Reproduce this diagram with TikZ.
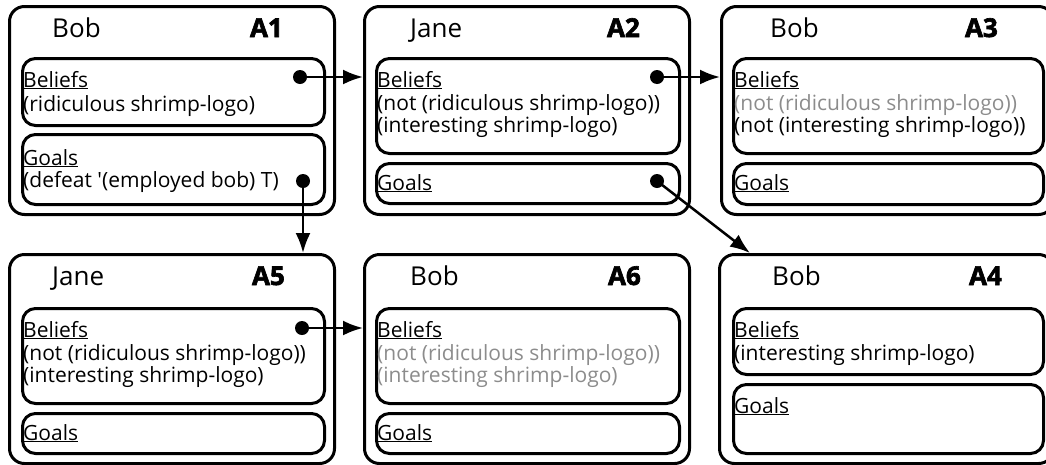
\documentclass[tikz,border=0pt]{standalone}
\usepackage{fontspec}
\setmainfont{Open Sans}
\IfFontExistsTF{Open Sans Bold}{\newfontfamily\heavy{Open Sans Bold}[FakeBold=2.5]}{\newcommand\heavy{\bfseries}}
\usepackage{tikz}
\usetikzlibrary{arrows.meta,positioning}
\definecolor{faded}{gray}{0.55}

\begin{document}
\begin{tikzpicture}[x=1pt, y=-1pt,
    agent/.style={draw, line width=3pt, rounded corners=15pt, anchor=north west, inner sep=0pt, minimum width=325pt, minimum height=208pt},
    store/.style={draw, line width=3pt, rounded corners=13pt, anchor=north west, inner sep=0pt},
    who/.style={anchor=base west, inner sep=0pt, font=\fontsize{26}{30}\selectfont},
    tag/.style={anchor=base east, inner sep=0pt, font=\fontsize{26}{30}\selectfont\heavy},
    txt/.style={anchor=base west, inner sep=0pt, font=\fontsize{21}{24}\selectfont},
    old/.style={txt, text=faded},
    dot/.style={circle, fill, inner sep=0pt, minimum size=14pt},
    link/.style={-{Latex[length=20pt, width=15pt]}, line width=2.5pt}]
        \useasboundingbox (0,0) rectangle (1046,464);
        \clip (0,0) rectangle (1046,464);

        % A1 (top left)
        \node[agent] (A1) at (8,5) {};
        \node[who] (A1who) at (52,37) {Bob};
        \node[tag] (A1tag) at (283,37) {A1};
        \node[store, minimum width=302pt, minimum height=67pt] (A1bel) at (21,57) {};
        \node[txt] (A1b0) at (23,87) {\underline{Beliefs}};
        \node[txt] (A1b1) at (23,111) {(ridiculous shrimp-logo)};
        \node[store, minimum width=302pt, minimum height=70pt] (A1goa) at (21,133) {};
        \node[txt] (A1g0) at (23,165) {\underline{Goals}};
        \node[txt] (A1g1) at (23,187) {(defeat \textquotesingle(employed bob) T)};

        % A2 (top middle)
        \node[agent] (A2) at (363,5) {};
        \node[who] (A2who) at (410,37) {Jane};
        \node[tag] (A2tag) at (640,37) {A2};
        \node[store, minimum width=303pt, minimum height=95pt] (A2bel) at (375,57) {};
        \node[txt] (A2b0) at (377,87) {\underline{Beliefs}};
        \node[txt] (A2b1) at (377,110) {(not (ridiculous shrimp-logo))};
        \node[txt] (A2b2) at (377,132) {(interesting shrimp-logo)};
        \node[store, minimum width=303pt, minimum height=40pt] (A2goa) at (375,162) {};
        \node[txt] (A2g0) at (377,190) {\underline{Goals}};

        % A3 (top right)
        \node[agent, minimum width=332pt] (A3) at (720,5) {};
        \node[who] (A3who) at (770,37) {Bob};
        \node[tag] (A3tag) at (998,37) {A3};
        \node[store, minimum width=310pt, minimum height=95pt] (A3bel) at (732,57) {};
        \node[txt] (A3b0) at (734,87) {\underline{Beliefs}};
        \node[old] (A3b1) at (734,110) {(not (ridiculous shrimp-logo))};
        \node[txt] (A3b2) at (734,132) {(not (interesting shrimp-logo))};
        \node[store, minimum width=310pt, minimum height=41pt] (A3goa) at (732,162) {};
        \node[txt] (A3g0) at (734,190) {\underline{Goals}};

        % A5 (bottom left)
        \node[agent, minimum height=209pt] (A5) at (8,253) {};
        \node[who] (A5who) at (52,285) {Jane};
        \node[tag] (A5tag) at (285,285) {A5};
        \node[store, minimum width=302pt, minimum height=95pt] (A5bel) at (21,307) {};
        \node[txt] (A5b0) at (23,337) {\underline{Beliefs}};
        \node[txt] (A5b1) at (23,360) {(not (ridiculous shrimp-logo))};
        \node[txt] (A5b2) at (23,382) {(interesting shrimp-logo)};
        \node[store, minimum width=302pt, minimum height=40pt] (A5goa) at (21,412) {};
        \node[txt] (A5g0) at (23,440) {\underline{Goals}};

        % A6 (bottom middle)
        \node[agent, minimum height=209pt] (A6) at (363,253) {};
        \node[who] (A6who) at (410,285) {Bob};
        \node[tag] (A6tag) at (641,285) {A6};
        \node[store, minimum width=303pt, minimum height=95pt] (A6bel) at (375,307) {};
        \node[txt] (A6b0) at (377,337) {\underline{Beliefs}};
        \node[old] (A6b1) at (377,360) {(not (ridiculous shrimp-logo))};
        \node[old] (A6b2) at (377,382) {(interesting shrimp-logo)};
        \node[store, minimum width=303pt, minimum height=40pt] (A6goa) at (375,412) {};
        \node[txt] (A6g0) at (377,440) {\underline{Goals}};

        % A4 (bottom right)
        \node[agent, minimum width=334pt, minimum height=209pt] (A4) at (718,253) {};
        \node[who] (A4who) at (772,285) {Bob};
        \node[tag] (A4tag) at (1002,285) {A4};
        \node[store, minimum width=310pt, minimum height=66pt] (A4bel) at (732,307) {};
        \node[txt] (A4b0) at (734,337) {\underline{Beliefs}};
        \node[txt] (A4b1) at (734,360) {(interesting shrimp-logo)};
        \node[store, minimum width=310pt, minimum height=69pt] (A4goa) at (732,383) {};
        \node[txt] (A4g0) at (734,413) {\underline{Goals}};

        % Links
        \node[dot] (d1) at (300,77) {};
        \node[dot] (d2) at (303,181) {};
        \node[dot] (d3) at (657,77) {};
        \node[dot] (d4) at (657,181) {};
        \node[dot] (d5) at (302,328) {};
        \coordinate (A4in) at (750,253);
        \draw[link] (d1.center) -- (d1 -| A2.west);
        \draw[link] (d2.center) -- (d2 |- A5.north);
        \draw[link] (d3.center) -- (d3 -| A3.west);
        \draw[link] (d4.center) -- (A4in);
        \draw[link] (d5.center) -- (d5 -| A6.west);
      \end{tikzpicture}
\end{document}
